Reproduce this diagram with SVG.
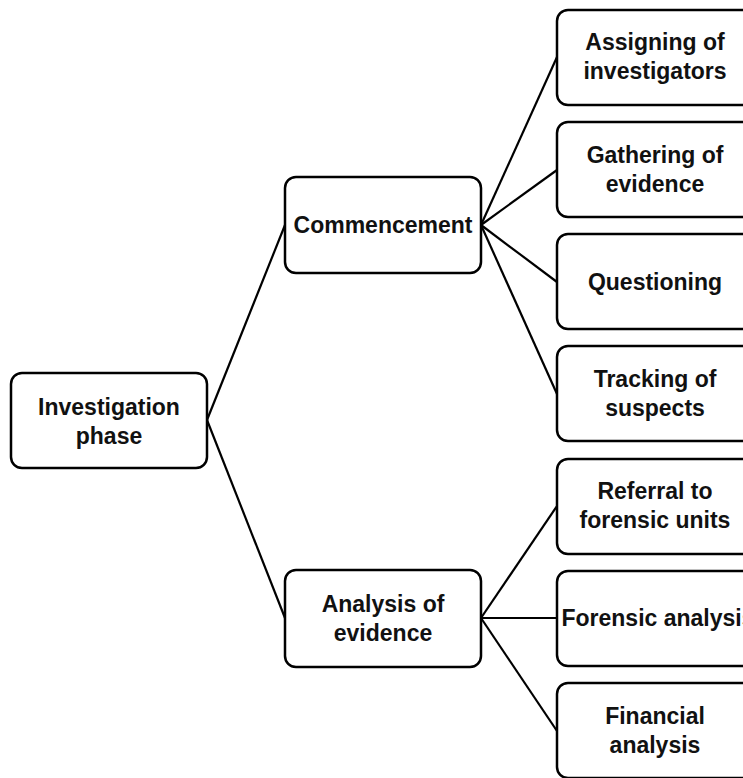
<svg xmlns="http://www.w3.org/2000/svg" width="743" height="778" viewBox="0 0 743 778">
<style>
.box{fill:#fff;stroke:#000;stroke-width:2.5}
.t{font-family:"Liberation Sans",Arial,sans-serif;font-weight:bold;font-size:23px;fill:#111;text-anchor:middle}
.c{stroke:#000;stroke-width:2.2;fill:none}
</style>
<rect width="743" height="778" fill="#fff"/>
<g id="connectors">
<line class="c" x1="207" y1="420" x2="285" y2="225"/>
<line class="c" x1="207" y1="420" x2="285" y2="618"/>
<line class="c" x1="481" y1="225" x2="557" y2="57"/>
<line class="c" x1="481" y1="225" x2="557" y2="170"/>
<line class="c" x1="481" y1="225" x2="557" y2="282"/>
<line class="c" x1="481" y1="225" x2="557" y2="394"/>
<line class="c" x1="481" y1="618" x2="557" y2="506"/>
<line class="c" x1="481" y1="618" x2="557" y2="618"/>
<line class="c" x1="481" y1="618" x2="557" y2="731"/>
</g>
<g id="root"><rect class="box" x="11" y="373" width="196" height="95" rx="11"/><text class="t" x="109" y="415">Investigation</text><text class="t" x="109" y="444">phase</text></g>
<g id="commencement"><rect class="box" x="285" y="177" width="196" height="96" rx="11"/><text class="t" x="383" y="233">Commencement</text></g>
<g id="analysis"><rect class="box" x="285" y="570" width="196" height="97" rx="11"/><text class="t" x="383" y="612">Analysis of</text><text class="t" x="383" y="641">evidence</text></g>
<g id="assigning"><rect class="box" x="557" y="10" width="196" height="95" rx="11"/><text class="t" x="655" y="50">Assigning of</text><text class="t" x="655" y="79">investigators</text></g>
<g id="gathering"><rect class="box" x="557" y="122" width="196" height="95" rx="11"/><text class="t" x="655" y="163">Gathering of</text><text class="t" x="655" y="192">evidence</text></g>
<g id="questioning"><rect class="box" x="557" y="234" width="196" height="95" rx="11"/><text class="t" x="655" y="290">Questioning</text></g>
<g id="tracking"><rect class="box" x="557" y="346" width="196" height="95" rx="11"/><text class="t" x="655" y="387">Tracking of</text><text class="t" x="655" y="416">suspects</text></g>
<g id="referral"><rect class="box" x="557" y="459" width="196" height="95" rx="11"/><text class="t" x="655" y="499">Referral to</text><text class="t" x="655" y="528">forensic units</text></g>
<g id="forensic"><rect class="box" x="557" y="571" width="196" height="95" rx="11"/><text class="t" x="658" y="626">Forensic analysis</text></g>
<g id="financial"><rect class="box" x="557" y="683" width="196" height="95" rx="11"/><text class="t" x="655" y="724">Financial</text><text class="t" x="655" y="753">analysis</text></g>
</svg>
